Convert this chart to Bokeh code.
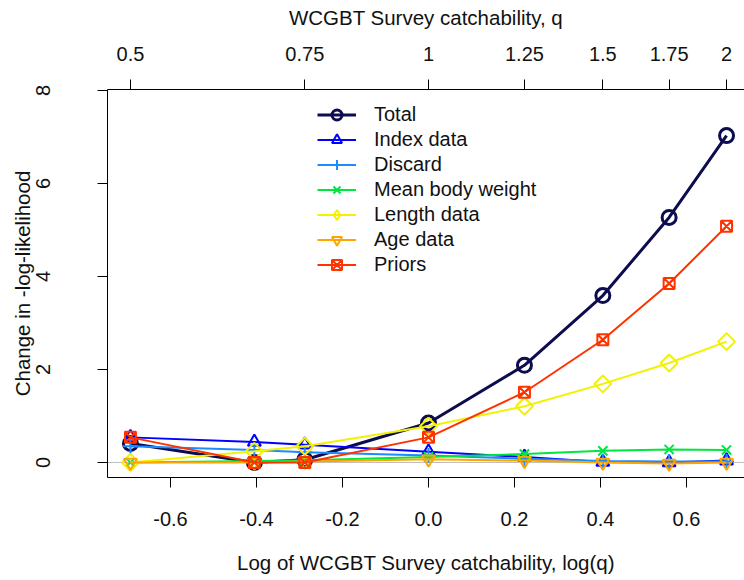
import numpy as np
from bokeh.plotting import figure
from bokeh.models import (LinearAxis, FixedTicker, Range1d, Span, Legend,
                          LegendItem, CustomJSTickFormatter)
from bokeh.embed import file_html
from bokeh.resources import INLINE

# Survey catchability values profiled, and the change in -log-likelihood
q_values = [0.5, 0.667, 0.75, 1.0, 1.25, 1.5, 1.75, 2.0]

total = [0.41, 0.0, 0.06, 0.85, 2.09, 3.59, 5.27, 7.03]
index_data = [0.54, 0.44, 0.38, 0.23, 0.12, 0.01, 0.0, 0.04]
discard = [0.35, 0.27, 0.22, 0.15, 0.08, 0.03, 0.02, 0.02]
mean_body_weight = [0.0, 0.03, 0.05, 0.12, 0.18, 0.25, 0.28, 0.27]
length_data = [0.0, 0.24, 0.35, 0.78, 1.21, 1.69, 2.14, 2.60]
age_data = [0.0, 0.0, 0.02, 0.07, 0.04, 0.0, -0.02, 0.0]
priors = [0.54, 0.0, 0.0, 0.54, 1.51, 2.64, 3.85, 5.08]

# Axis tick positions
logq_ticks = [-0.6, -0.4, -0.2, 0.0, 0.2, 0.4, 0.6]
q_ticks = [0.5, 0.75, 1.0, 1.25, 1.5, 1.75, 2.0]
y_ticks = [0, 2, 4, 6, 8]

log_q = np.log(q_values)

FONT = "Liberation Sans"
TXT = "#111111"

p = figure(width=744, height=580,
           x_range=Range1d(-0.7465, 0.7349), y_range=Range1d(-0.323, 8.022),
           output_backend="svg", toolbar_location=None,
           min_border_left=107, min_border_right=0,
           min_border_top=89, min_border_bottom=103,
           x_axis_label="Log of WCGBT Survey catchability, log(q)",
           y_axis_label="Change in -log-likelihood")
p.outline_line_color = None
p.grid.visible = False
p.background_fill_color = "white"
p.border_fill_color = "white"


def style_axis(ax):
    ax.axis_line_color = "black"
    ax.axis_line_width = 1
    ax.major_tick_line_color = "black"
    ax.major_tick_out = 10
    ax.major_tick_in = 0
    ax.minor_tick_out = 0
    ax.minor_tick_in = 0
    ax.major_label_text_font = FONT
    ax.major_label_text_font_size = "20px"
    ax.major_label_text_color = TXT
    ax.axis_label_text_font = FONT
    ax.axis_label_text_font_size = "20.5px"
    ax.axis_label_text_font_style = "normal"
    ax.axis_label_text_color = TXT


xa = p.xaxis[0]
style_axis(xa)
xa.ticker = FixedTicker(ticks=logq_ticks)
xa.formatter = CustomJSTickFormatter(code="return tick.toFixed(1);")
xa.major_label_standoff = 24
xa.axis_label_standoff = 22

ya = p.yaxis[0]
style_axis(ya)
ya.ticker = FixedTicker(ticks=y_ticks)
ya.major_label_orientation = "vertical"
ya.major_label_standoff = 47
ya.axis_label_standoff = 0

top = LinearAxis(axis_label="WCGBT Survey catchability, q",
                 ticker=FixedTicker(ticks=list(np.log(q_ticks))),
                 formatter=CustomJSTickFormatter(
                     code="return String(parseFloat(Math.exp(tick).toFixed(2)));"))
style_axis(top)
top.major_label_standoff = 19
top.axis_label_standoff = 15
p.add_layout(top, "above")

# grey reference line at zero
p.add_layout(Span(location=0, dimension="width", line_color="#BEBEBE",
                  line_width=1, level="underlay"))

# label, values, colour, marker, size, line width, marker angle
series = [
    ("Total", total, "#0C0C4E", "circle", 14, 3, 0),
    ("Index data", index_data, "#0000FF", "triangle", 13, 2, 0),
    ("Discard", discard, "#1A8CFF", "cross", 15, 2, 0),
    ("Mean body weight", mean_body_weight, "#00E640", "x", 13, 2, 0),
    ("Length data", length_data, "#F2F200", "square", 12, 2, np.pi / 4),
    ("Age data", age_data, "#FFA500", "inverted_triangle", 13, 2, 0),
    ("Priors", priors, "#FF3300", "square_x", 11, 2, 0),
]

items = []
for label, vals, color, marker, size, lw, ang in series:
    ln = p.line(log_q, vals, line_color=color, line_width=lw)
    sc = p.scatter(log_q, vals, marker=marker, size=size, angle=ang,
                   line_color=color, fill_color=None, line_width=lw)
    key = sc
    if ang:
        # legend keys are drawn unrotated, so give this entry a diamond key
        key = p.scatter([np.nan], [np.nan], marker="diamond", size=size,
                        line_color=color, fill_color=None, line_width=lw)
    items.append(LegendItem(label=label, renderers=[ln, key]))

legend = Legend(items=items, location=(210, 200), orientation="vertical",
                border_line_color=None, background_fill_alpha=0,
                padding=0, margin=0, spacing=0,
                glyph_width=39, glyph_height=25, label_height=25,
                label_standoff=18,
                label_text_font=FONT, label_text_font_size="20px",
                label_text_color=TXT)
p.add_layout(legend, "center")

open("out.html", "w").write(file_html(p, INLINE))
